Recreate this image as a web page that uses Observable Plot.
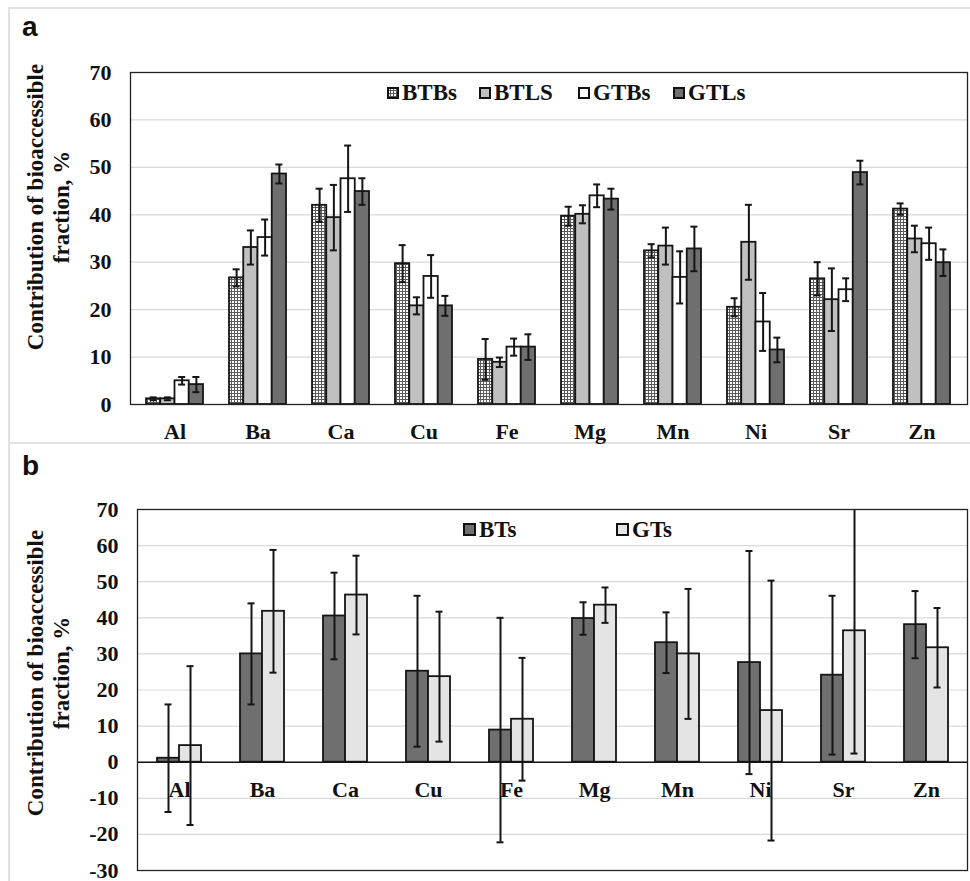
<!DOCTYPE html>
<html><head><meta charset="utf-8">
<script src="https://cdn.jsdelivr.net/npm/d3@7"></script>
<script src="https://cdn.jsdelivr.net/npm/@observablehq/plot@0.6"></script>
<style>
body{margin:0;background:#fff;}
#page{position:relative;width:970px;height:881px;overflow:hidden;font-family:"Liberation Serif","Times New Roman",Times,"DejaVu Serif",serif;color:#111;}
.box{position:absolute;left:8px;top:7px;width:980px;height:900px;border-top:2px solid #e2e2e2;border-left:2px solid #e2e2e2;}
.sep{position:absolute;left:8px;top:442px;width:970px;height:2px;background:#e2e2e2;}
.tag{position:absolute;font-family:"Liberation Sans",Arial,sans-serif;font-weight:bold;font-size:28px;line-height:28px;}
.ylab{position:absolute;width:340px;height:52px;transform:rotate(-90deg);transform-origin:center;font-family:"Liberation Serif","Times New Roman",Times,"DejaVu Serif",serif;font-weight:bold;font-size:23px;text-align:center;line-height:26px;white-space:nowrap;}
.leg{position:absolute;font-family:"Liberation Serif","Times New Roman",Times,"DejaVu Serif",serif;font-weight:bold;font-size:23px;line-height:23px;display:flex;align-items:center;white-space:nowrap;}
.leg svg{margin-right:3px;}
.panel{position:absolute;left:0;}
</style>
</head><body>
<svg width="0" height="0" style="position:absolute">
<defs>
<pattern id="gridpat" width="3" height="3" patternUnits="userSpaceOnUse">
<rect width="3" height="3" fill="#ffffff"/>
<path d="M0 0.5H3M0.5 0V3" stroke="#5a5a5a" stroke-width="1"/>
</pattern>
</defs>
</svg>
<div id="page">
  <div class="box"></div>
  <div class="sep"></div>
  <div class="tag" style="left:22px;top:13px;">a</div>
  <div class="tag" style="left:22px;top:452px;">b</div>
  <div id="pa" class="panel" style="top:0;"></div>
  <div id="pb" class="panel" style="top:443px;"></div>
  <div class="ylab" style="left:-121px;top:181px;">Contribution of bioaccessible<br>fraction, %</div>
  <div class="ylab" style="left:-121px;top:647px;">Contribution of bioaccessible<br>fraction, %</div>
  <div id="lega"></div>
  <div id="legb"></div>
</div>
<script>
// ---------- data ----------
const elements = ["Al","Ba","Ca","Cu","Fe","Mg","Mn","Ni","Sr","Zn"];

// panel a
const seriesA = ["BTBs","BTLS","GTBs","GTLs"];
const btbs    = [1.2, 26.7, 42.0, 29.7, 9.5, 39.7, 32.4, 20.5, 26.5, 41.2];
const btbsErr = [0.3, 1.8, 3.5, 3.9, 4.3, 2.0, 1.4, 1.9, 3.5, 1.2];
const btls    = [1.2, 33.1, 39.4, 20.8, 8.9, 40.1, 33.4, 34.2, 22.1, 34.9];
const btlsErr = [0.3, 3.6, 6.9, 1.8, 1.0, 1.9, 3.9, 7.9, 6.6, 2.8];
const gtbs    = [5.0, 35.2, 47.6, 27.0, 12.1, 44.0, 26.8, 17.4, 24.2, 33.9];
const gtbsErr = [0.8, 3.8, 7.0, 4.5, 1.8, 2.4, 5.5, 6.1, 2.4, 3.4];
const gtls    = [4.2, 48.6, 44.9, 20.8, 12.1, 43.3, 32.8, 11.5, 48.9, 29.9];
const gtlsErr = [1.6, 2.0, 2.8, 2.1, 2.7, 2.2, 4.7, 2.6, 2.5, 2.8];
const yTicksA = [0,10,20,30,40,50,60,70];

// panel b
const seriesB = ["BTs","GTs"];
const bts    = [1.1, 30.0, 40.5, 25.2, 8.9, 39.8, 33.1, 27.6, 24.1, 38.1];
const btsErr = [14.9, 14.0, 12.0, 20.9, 31.1, 4.5, 8.4, 30.9, 22.0, 9.3];
const gts    = [4.6, 41.8, 46.3, 23.7, 11.9, 43.5, 30.0, 14.3, 36.4, 31.7];
const gtsErr = [22.0, 17.0, 10.9, 18.0, 17.0, 4.9, 18.0, 36.0, 34.0, 11.0];
const yTicksB = [-30,-20,-10,0,10,20,30,40,50,60,70];

// ---------- styles ----------
const fillsA = ["url(#gridpat)", "#c0c0c0", "#ffffff", "#6f6f6f"];
const fillsB = ["#6f6f6f", "#e4e4e4"];
const serif = "'Liberation Serif', 'Times New Roman', Times, 'DejaVu Serif', serif";
const font = {fontFamily: serif, fontSize:"22px", fontWeight:"bold", color:"#111", background:"transparent", overflow:"visible"};

function rowsOf(series, vals, errs) {
  return series.flatMap((s, i) => elements.map((e, j) => ({el: e, series: s, idx: i, value: vals[i][j], err: errs[i][j]})));
}

function panel({series, vals, errs, fills, width, height, mt, mb, ml, mr, yDomain, yTicks, padIn, xAxis, zeroLine}) {
  const rows = rowsOf(series, vals, errs);
  const n = series.length;
  const base = {
    width, height, marginTop: mt, marginBottom: mb, marginLeft: ml, marginRight: mr,
    style: font,
    x: {domain: elements, paddingInner: padIn, paddingOuter: padIn/2, label: null, tickSize: 0, tickPadding: 19, axis: xAxis ? "bottom" : null},
    y: {domain: yDomain, ticks: yTicks, tickSize: 0, tickPadding: 19, label: null, tickFormat: d => String(d)}
  };
  const probe = Plot.plot({...base, marks: [Plot.barY(rows, {x: "el", y: "value"})]});
  const bw = probe.scale("x").bandwidth;
  const w = bw / n;
  const cap = 3.5;
  const marks = [Plot.ruleY(yTicks, {stroke: "#d9d9d9", strokeWidth: 1.2})];
  if (!xAxis) {
    marks.push(Plot.text(elements, {x: d => d, y: 0, dy: 28, fontSize: 22, fontWeight: "bold", fill: "#111"}));
  }
  series.forEach((s, i) => {
    const data = rows.filter(r => r.series === s);
    marks.push(Plot.barY(data, {x: "el", y: "value", fill: fills[i], stroke: "#151515", strokeWidth: 1.8,
      insetLeft: i * w, insetRight: (n - 1 - i) * w}));
  });
  if (zeroLine) marks.push(Plot.ruleY([0], {stroke: "#151515", strokeWidth: 1.5}));
  series.forEach((s, i) => {
    const data = rows.filter(r => r.series === s);
    const off = (i + 0.5) * w;
    marks.push(Plot.ruleX(data, {x: "el", y1: d => Math.max(yDomain[0], d.value - d.err), y2: d => Math.min(yDomain[1], d.value + d.err),
      dx: off - bw / 2, stroke: "#151515", strokeWidth: 2}));
    const caps = data.flatMap(d => [d.value - d.err, d.value + d.err].filter(v => v >= yDomain[0] && v <= yDomain[1]).map(v => ({el: d.el, v})));
    marks.push(Plot.tickY(caps, {x: "el", y: "v", stroke: "#151515", strokeWidth: 2, insetLeft: off - cap, insetRight: bw - off - cap}));
  });
  marks.push(Plot.frame({stroke: "#222", strokeWidth: 1.3}));
  return Plot.plot({...base, marks});
}

document.getElementById("pa").append(panel({
  series: seriesA, vals: [btbs, btls, gtbs, gtls], errs: [btbsErr, btlsErr, gtbsErr, gtlsErr], fills: fillsA,
  width: 970, height: 443, mt: 72, mb: 39, ml: 130, mr: 3, yDomain: [0, 70], yTicks: yTicksA, padIn: 0.31, xAxis: true, zeroLine: false
}));
document.getElementById("pb").append(panel({
  series: seriesB, vals: [bts, gts], errs: [btsErr, gtsErr], fills: fillsB,
  width: 970, height: 438, mt: 66, mb: 11, ml: 137, mr: 3, yDomain: [-30, 70], yTicks: yTicksB, padIn: 0.47, xAxis: false, zeroLine: true
}));

// ---------- legends ----------
function legend(containerId, series, fills, lefts, top, size) {
  const c = document.getElementById(containerId);
  series.forEach((s, i) => {
    const d = document.createElement("div");
    d.className = "leg";
    d.style.left = lefts[i] + "px";
    d.style.top = top + "px";
    d.innerHTML = `<svg width="${size}" height="${size}"><rect x="1" y="1" width="${size-2}" height="${size-2}" fill="${fills[i]}" stroke="#111" stroke-width="2"/></svg>`;
    const t = document.createElement("span");
    t.textContent = s;
    d.append(t);
    c.append(d);
  });
}
legend("lega", seriesA, fillsA, [387, 479, 578, 673], 81, 12);
legend("legb", seriesB, fillsB, [463, 616], 518, 13);
</script>
</body></html>
